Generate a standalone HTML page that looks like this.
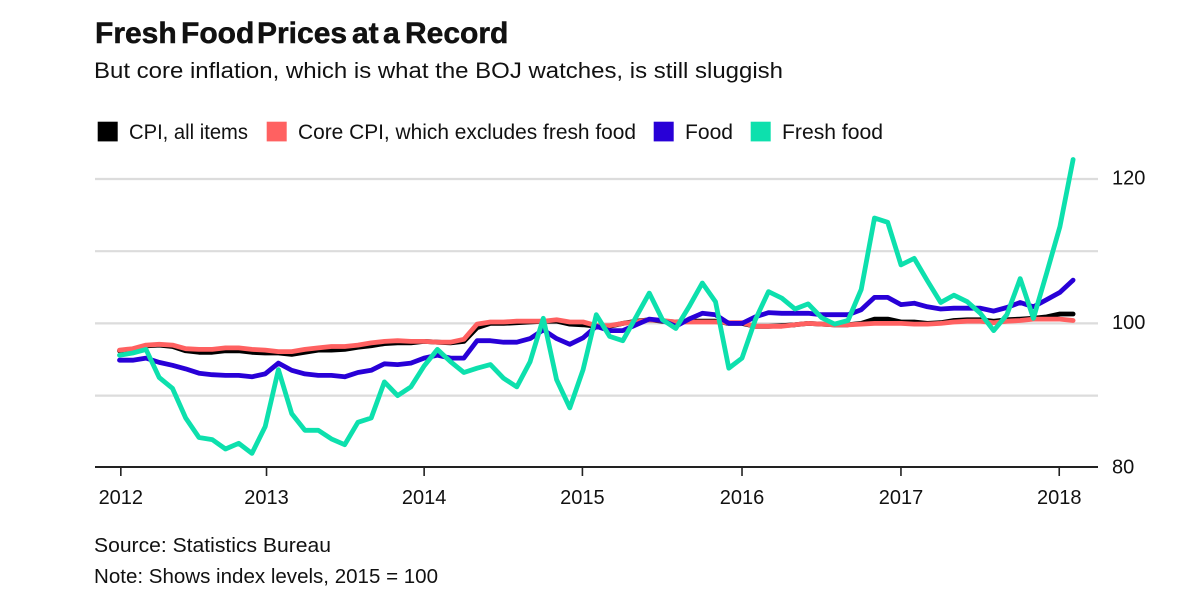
<!DOCTYPE html>
<html>
<head>
<meta charset="utf-8">
<style>
html,body{margin:0;padding:0;background:#fff;}
svg{display:block;}
text{font-family:"Liberation Sans",sans-serif;fill:#111;}
</style>
</head>
<body>
<svg id="chart" width="1200" height="598" viewBox="0 0 1200 598" xmlns="http://www.w3.org/2000/svg">
  <rect width="1200" height="598" fill="#fff"/>
  <text y="43" font-size="30" font-weight="700" stroke="#111" stroke-width="0.5"><tspan x="95">Fresh </tspan><tspan x="181">Food </tspan><tspan x="257">Prices </tspan><tspan x="352">at </tspan><tspan x="383">a </tspan><tspan x="405">Record</tspan></text>
  <text x="94" y="78" font-size="22" textLength="689" lengthAdjust="spacingAndGlyphs">But core inflation, which is what the BOJ watches, is still sluggish</text>

  <g>
    <g>
      <rect x="97.7" y="121.7" width="20" height="19.7" fill="#000"/>
      <text x="129" y="139" font-size="21" textLength="119" lengthAdjust="spacingAndGlyphs">CPI, all items</text>
    </g>
    <g>
      <rect x="266.7" y="121.7" width="20" height="19.7" fill="#ff6161"/>
      <text x="298" y="139" font-size="21" textLength="338" lengthAdjust="spacingAndGlyphs">Core CPI, which excludes fresh food</text>
    </g>
    <g>
      <rect x="653.7" y="121.7" width="20" height="19.7" fill="#2800d7"/>
      <text x="685" y="139" font-size="21" textLength="48" lengthAdjust="spacingAndGlyphs">Food</text>
    </g>
    <g>
      <rect x="750.7" y="121.7" width="20" height="19.7" fill="#0de0ad"/>
      <text x="782" y="139" font-size="21" textLength="101" lengthAdjust="spacingAndGlyphs">Fresh food</text>
    </g>
  </g>

  <g id="grid"></g>
  <g id="yLabels"></g>
  <g id="series"></g>
  <g id="xAxis"></g>

  <text x="94" y="552" font-size="20" textLength="237" lengthAdjust="spacingAndGlyphs">Source: Statistics Bureau</text>
  <text x="94" y="583" font-size="20" textLength="344" lengthAdjust="spacingAndGlyphs">Note: Shows index levels, 2015 = 100</text>
</svg>
<script>
var yTicks = [80, 90, 100, 110, 120];
var yTickLabels = ['80', '', '100', '', '120'];
var yearLabels = ['2012', '2013', '2014', '2015', '2016', '2017', '2018'];
var yearMonthIndex = [0.1, 11.1, 23, 34.95, 47, 59, 70.95];

var cpiAll = [96.2,96.4,96.9,97.0,96.8,96.2,96.0,96.0,96.2,96.2,96.0,95.9,95.9,95.7,96.0,96.3,96.3,96.4,96.7,96.9,97.2,97.3,97.3,97.5,97.4,97.3,97.5,99.4,100,100,100.1,100.2,100.3,100.3,99.9,99.8,99.6,99.6,100,100.3,100.5,100.3,100.2,100.3,100.3,100.3,100,100,99.6,99.6,99.7,99.8,100,99.9,99.8,99.8,100,100.6,100.6,100.2,100.2,100.0,100.1,100.4,100.5,100.5,100.3,100.5,100.6,100.7,100.9,101.3,101.3];
var coreCpi = [96.3,96.5,97.0,97.1,97.0,96.5,96.4,96.4,96.6,96.6,96.4,96.3,96.1,96.1,96.4,96.6,96.8,96.8,97.0,97.3,97.5,97.6,97.5,97.5,97.4,97.4,97.8,99.9,100.2,100.2,100.3,100.3,100.3,100.5,100.2,100.2,99.7,99.7,100,100.2,100.5,100.4,100.2,100.2,100.2,100.2,100.1,100.1,99.6,99.6,99.6,99.8,100,99.9,99.8,99.8,99.9,100,100,100,99.9,99.9,100,100.2,100.3,100.3,100.1,100.3,100.4,100.6,100.6,100.6,100.4];
var food = [94.9,94.9,95.2,94.6,94.2,93.7,93.1,92.9,92.8,92.8,92.6,93.0,94.5,93.5,93.0,92.8,92.8,92.6,93.2,93.5,94.4,94.3,94.5,95.2,95.6,95.2,95.2,97.6,97.6,97.4,97.4,97.9,99.1,97.9,97.1,98.0,99.6,99.0,99.0,99.8,100.6,100.4,99.6,100.6,101.4,101.2,100,100,100.9,101.5,101.4,101.4,101.4,101.2,101.2,101.2,101.9,103.6,103.6,102.6,102.8,102.3,102.0,102.1,102.1,102.1,101.7,102.2,102.9,102.3,103.3,104.3,106.0];
var freshFood = [95.6,95.9,96.4,92.5,91.0,86.9,84.2,83.9,82.6,83.4,82.0,85.7,93.6,87.5,85.2,85.2,84.0,83.2,86.3,86.9,91.9,90.0,91.2,94.1,96.4,94.7,93.2,93.8,94.3,92.4,91.2,94.7,100.7,92.2,88.3,93.6,101.2,98.2,97.6,100.9,104.2,100.5,99.3,102.3,105.6,103.0,93.8,95.2,100.5,104.4,103.5,102.0,102.7,100.8,99.9,100.4,104.7,114.6,114.0,108.1,109.0,105.9,102.9,103.9,103.0,101.4,99.0,101.2,106.2,100.7,107.0,113.4,122.7];

var NS = 'http://www.w3.org/2000/svg';
function xScale(i) { return 119.5 + 13.245 * i; }
function yScale(v) { return 323.4 - (v - 100) * 7.22; }

var gridG = document.getElementById('grid');
var yLabelG = document.getElementById('yLabels');
yTicks.forEach(function (t, k) {
  if (t !== 80) {
    var g = document.createElementNS(NS, 'line');
    
    
    g.setAttribute('x1', 95);
    g.setAttribute('x2', 1098);
    g.setAttribute('y1', yScale(t));
    g.setAttribute('y2', yScale(t));
    g.setAttribute('stroke', '#dcdcdc');
    g.setAttribute('stroke-width', '2.2');
    gridG.appendChild(g);
  }
  if (yTickLabels[k]) {
    var l = document.createElementNS(NS, 'text');
    
    
    l.setAttribute('x', 1112);
    l.setAttribute('y', yScale(t) + 5.7);
    l.setAttribute('font-size', '20');
    l.textContent = yTickLabels[k];
    yLabelG.appendChild(l);
  }
});

var seriesG = document.getElementById('series');
function drawLine(values, color, name) {
  var p = document.createElementNS(NS, 'polyline');
  
  
  p.setAttribute('fill', 'none');
  p.setAttribute('stroke', color);
  p.setAttribute('stroke-width', '4.8');
  p.setAttribute('stroke-linejoin', 'round');
  p.setAttribute('stroke-linecap', 'round');
  p.setAttribute('points', values.map(function (v, i) {
    return xScale(i).toFixed(1) + ',' + yScale(v).toFixed(1);
  }).join(' '));
  seriesG.appendChild(p);
}
drawLine(cpiAll, '#000000', 'line-cpi-all-items');
drawLine(coreCpi, '#ff6161', 'line-core-cpi');
drawLine(food, '#2800d7', 'line-food');
drawLine(freshFood, '#0de0ad', 'line-fresh-food');

var xG = document.getElementById('xAxis');
var base = document.createElementNS(NS, 'line');


base.setAttribute('x1', 95);
base.setAttribute('x2', 1098);
base.setAttribute('y1', 467);
base.setAttribute('y2', 467);
base.setAttribute('stroke', '#222');
base.setAttribute('stroke-width', '2');
xG.appendChild(base);
yearLabels.forEach(function (label, k) {
  var x = xScale(yearMonthIndex[k]);
  var t = document.createElementNS(NS, 'line');
  
  
  t.setAttribute('x1', x);
  t.setAttribute('x2', x);
  t.setAttribute('y1', 467);
  t.setAttribute('y2', 476);
  t.setAttribute('stroke', '#222');
  t.setAttribute('stroke-width', '1.6');
  xG.appendChild(t);
  var l = document.createElementNS(NS, 'text');
  
  
  l.setAttribute('x', x);
  l.setAttribute('y', 504);
  l.setAttribute('font-size', '20');
  l.setAttribute('text-anchor', 'middle');
  l.textContent = label;
  xG.appendChild(l);
});
</script>
</body>
</html>
